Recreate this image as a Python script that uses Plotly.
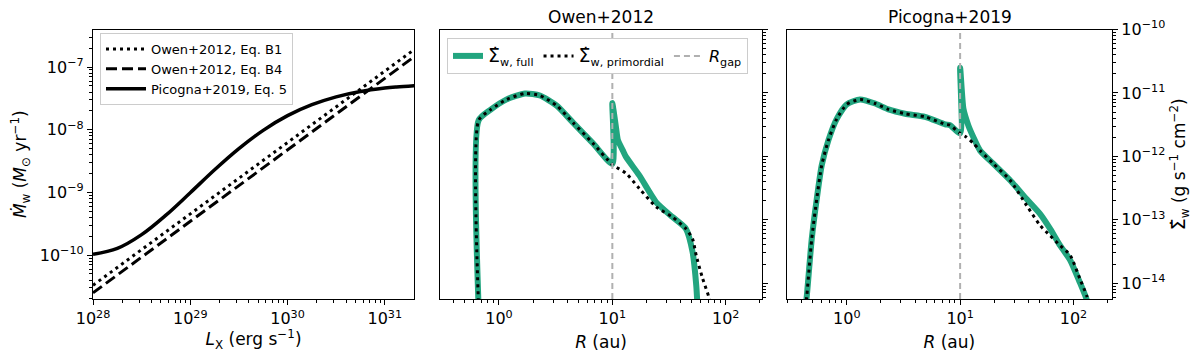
import plotly.graph_objects as go

# ---- left panel: wind mass-loss rate vs X-ray luminosity ----
lx_line = [1e28, 2e31]
mdot_owen_b1 = [3.3e-11, 1.9e-7]
mdot_owen_b4 = [2.5e-11, 1.46e-7]

lx_picogna = [1e28, 1.78e28, 3.16e28, 5.62e28, 1e29, 1.78e29, 3.16e29, 5.62e29,
              1e30, 1.78e30, 3.16e30, 5.62e30, 1e31, 1.32e31, 2e31]
mdot_picogna = [1.03e-10, 1.28e-10, 2.12e-10, 4.34e-10, 9.9e-10, 2.3e-9, 5.0e-9, 9.8e-9,
                1.68e-8, 2.51e-8, 3.35e-8, 4.08e-8, 4.63e-8, 4.83e-8, 5.06e-8]

# ---- middle panel: Owen+2012 surface mass-loss profile ----
r_owen_full = [0.662, 0.662, 0.84, 1.17, 1.7, 2.3, 3.23, 4.5, 6.76, 10.0, 10.0, 10.3, 10.8,
               11.2, 12.4, 13.2, 17.3, 24.3, 34.0, 44.6, 51.0, 55.0, 56.5]
sig_owen_full = [4e-15, 3.7e-12, 5.4e-12, 7.9e-12, 9.8e-12, 9.1e-12, 6.3e-12, 3.4e-12, 1.6e-12,
                 7.6e-13, 6.9e-12, 5.0e-12, 2.75e-12, 1.8e-12, 1.23e-12, 9.8e-13, 5.0e-13,
                 1.9e-13, 1.1e-13, 7.2e-14, 3.1e-14, 9.1e-15, 4e-15]

r_owen_prim = [0.662, 0.662, 0.84, 1.17, 1.7, 2.3, 3.23, 4.5, 6.76, 10.0, 13.2, 17.3, 24.3,
               34.0, 44.6, 51.0, 55.0, 62.4, 71.4, 80.0]
sig_owen_prim = [4e-15, 3.7e-12, 5.4e-12, 7.9e-12, 9.8e-12, 9.1e-12, 6.3e-12, 3.4e-12, 1.6e-12,
                 7.4e-13, 5.4e-13, 3.1e-13, 1.6e-13, 1.1e-13, 7.2e-14, 5.0e-14, 2.7e-14,
                 1.2e-14, 5.8e-15, 2e-15]

# ---- right panel: Picogna+2019 surface mass-loss profile ----
r_pic_full = [0.42, 0.444, 0.491, 0.543, 0.601, 0.689, 0.816, 1.0, 1.31, 1.78, 2.33, 3.27,
              4.91, 7.38, 8.16, 10.0, 10.0, 10.7, 11.8, 13.1, 15.0, 19.7, 27.6, 38.8, 50.9,
              62.3, 76.4, 93.6, 114.0, 131.0, 140.0]
sig_pic_full = [2.5e-15, 6.3e-15, 5.0e-14, 2.1e-13, 7.2e-13, 1.8e-12, 3.9e-12, 6.6e-12,
                7.9e-12, 6.8e-12, 5.5e-12, 4.7e-12, 4.2e-12, 3.2e-12, 3.1e-12, 2.3e-12,
                2.5e-11, 5.6e-12, 3.1e-12, 2.0e-12, 1.23e-12, 7.6e-13, 4.2e-13, 2.1e-13,
                1.23e-13, 7.2e-14, 3.9e-14, 2.3e-14, 1.02e-14, 5.5e-15, 3.5e-15]

r_pic_prim = [0.42, 0.444, 0.491, 0.543, 0.601, 0.689, 0.816, 1.0, 1.31, 1.78, 2.33, 3.27,
              4.91, 7.38, 8.16, 10.0, 11.4, 13.1, 15.0, 19.7, 27.6, 38.8, 50.9, 62.3, 76.4,
              93.6, 114.0, 131.0, 140.0]
sig_pic_prim = [2.5e-15, 6.3e-15, 5.0e-14, 2.1e-13, 7.2e-13, 1.8e-12, 3.9e-12, 6.6e-12,
                7.9e-12, 6.8e-12, 5.5e-12, 4.7e-12, 4.2e-12, 3.2e-12, 3.1e-12, 2.3e-12,
                2.0e-12, 1.6e-12, 1.23e-12, 7.6e-13, 4.2e-13, 1.66e-13, 8.1e-14, 5.6e-14,
                3.9e-14, 2.75e-14, 1.17e-14, 6.3e-15, 4e-15]

r_gap = 10.0

# ---- tick labels ----
lx_tickvals = [1e28, 1e29, 1e30, 1e31]
lx_ticktext = ["10<sup>28</sup>", "10<sup>29</sup>", "10<sup>30</sup>", "10<sup>31</sup>"]
mdot_tickvals = [1e-10, 1e-9, 1e-8, 1e-7]
mdot_ticktext = ["10<sup>−10</sup>", "10<sup>−9</sup>", "10<sup>−8</sup>", "10<sup>−7</sup>"]
r_tickvals = [1, 10, 100]
r_ticktext = ["10<sup>0</sup>", "10<sup>1</sup>", "10<sup>2</sup>"]
sig_tickvals = [1e-14, 1e-13, 1e-12, 1e-11, 1e-10]
sig_ticktext = ["10<sup>−14</sup>", "10<sup>−13</sup>", "10<sup>−12</sup>",
                "10<sup>−11</sup>", "10<sup>−10</sup>"]

GREEN = "#22a57f"
DOT = "3px,4px"
SIGMA = "<span style='font-size:19px'>Σ\u0307</span>"

# page body adds an 8px margin, so size the figure to fit inside 1200x360
W, H, OFF = 1184, 344, 8


def px(x):
    return (x - OFF) / W


def py(y):
    return 1 - (y - OFF) / H


fig = go.Figure()

# left panel
fig.add_trace(go.Scatter(x=lx_line, y=mdot_owen_b1, mode="lines", name="Owen+2012, Eq. B1",
                         line=dict(color="black", width=3, dash=DOT),
                         xaxis="x", yaxis="y", legend="legend"))
fig.add_trace(go.Scatter(x=lx_line, y=mdot_owen_b4, mode="lines", name="Owen+2012, Eq. B4",
                         line=dict(color="black", width=3, dash="11px,5px"),
                         xaxis="x", yaxis="y", legend="legend"))
fig.add_trace(go.Scatter(x=lx_picogna, y=mdot_picogna, mode="lines", name="Picogna+2019, Eq. 5",
                         line=dict(color="black", width=3.5, shape="spline"),
                         xaxis="x", yaxis="y", legend="legend"))

# middle panel
fig.add_trace(go.Scatter(x=r_owen_full, y=sig_owen_full, mode="lines",
                         name=SIGMA + "<sub>w, full</sub>",
                         line=dict(color=GREEN, width=6, shape="spline", smoothing=0.6),
                         xaxis="x2", yaxis="y2", legend="legend2"))
fig.add_trace(go.Scatter(x=r_owen_prim, y=sig_owen_prim, mode="lines",
                         name=SIGMA + "<sub>w, primordial</sub>",
                         line=dict(color="black", width=3, dash=DOT, shape="spline",
                                   smoothing=0.6),
                         xaxis="x2", yaxis="y2", legend="legend2"))
fig.add_trace(go.Scatter(x=[None], y=[None], mode="lines", name="<i>R</i><sub>gap</sub>",
                         line=dict(color="#b0b0b0", width=2, dash="6px,4px"),
                         xaxis="x2", yaxis="y2", legend="legend2"))

# right panel
fig.add_trace(go.Scatter(x=r_pic_full, y=sig_pic_full, mode="lines", showlegend=False,
                         line=dict(color=GREEN, width=6, shape="spline", smoothing=0.6),
                         xaxis="x3", yaxis="y3"))
fig.add_trace(go.Scatter(x=r_pic_prim, y=sig_pic_prim, mode="lines", showlegend=False,
                         line=dict(color="black", width=3, dash=DOT, shape="spline",
                                   smoothing=0.6),
                         xaxis="x3", yaxis="y3"))

for xr, yr in [("x2", "y2 domain"), ("x3", "y3 domain")]:
    fig.add_shape(type="line", xref=xr, yref=yr, x0=r_gap, x1=r_gap,
                  y0=0, y1=1, line=dict(color="#b0b0b0", width=2, dash="6px,4px"))

axis_style = dict(showline=True, linecolor="black", linewidth=1.2, mirror=True,
                  ticks="outside", ticklen=5, tickwidth=1.2, tickcolor="black",
                  showgrid=False, zeroline=False, type="log", automargin=False,
                  tickfont=dict(size=16, color="black"),
                  minor=dict(ticks="outside", ticklen=2.5, tickwidth=1, tickcolor="black",
                             dtick="D1", showgrid=False))

ydom = [py(299), py(29.5)]
title_font = dict(size=17, color="black")

fig.update_layout(
    template="none",
    width=W, height=H,
    margin=dict(l=0, r=0, t=0, b=0),
    plot_bgcolor="white", paper_bgcolor="white",
    font=dict(family="DejaVu Sans", color="black"),
    xaxis=dict(axis_style, domain=[px(93), px(414)], anchor="y", range=[28, 31.3],
               tickmode="array", tickvals=lx_tickvals, ticktext=lx_ticktext,
               title=dict(text="<i>L</i><sub>X</sub> (erg s<sup>−1</sup>)", font=title_font,
                          standoff=10)),
    yaxis=dict(axis_style, domain=ydom, anchor="x", range=[-10.7, -6.4],
               tickmode="array", tickvals=mdot_tickvals, ticktext=mdot_ticktext,
               title=dict(text="<i>Ṁ</i><sub>w</sub> (<i>M</i><sub>⊙</sub> yr<sup>−1</sup>)",
                          font=title_font, standoff=9)),
    xaxis2=dict(axis_style, domain=[px(440), px(762)], anchor="y2", range=[-0.52, 2.32],
                tickmode="array", tickvals=r_tickvals, ticktext=r_ticktext,
                title=dict(text="<i>R</i> (au)", font=title_font, standoff=10)),
    yaxis2=dict(axis_style, domain=ydom, anchor="x2", range=[-14.25, -10], side="right",
                tickmode="array", tickvals=sig_tickvals, showticklabels=False),
    xaxis3=dict(axis_style, domain=[px(786.7), px(1112)], anchor="y3", range=[-0.53, 2.34],
                tickmode="array", tickvals=r_tickvals, ticktext=r_ticktext,
                title=dict(text="<i>R</i> (au)", font=title_font, standoff=10)),
    yaxis3=dict(axis_style, domain=ydom, anchor="x3", range=[-14.25, -10], side="right",
                tickmode="array", tickvals=sig_tickvals, ticktext=sig_ticktext,
                title=dict(text=SIGMA + "<sub>w</sub> (g s<sup>−1</sup> cm<sup>−2</sup>)",
                           font=title_font, standoff=10)),
    legend=dict(x=px(100), y=py(33), xanchor="left", yanchor="top",
                bgcolor="white", bordercolor="#cccccc", borderwidth=1,
                font=dict(size=13), tracegroupgap=0, itemwidth=40),
    legend2=dict(x=px(447), y=py(38), xanchor="left", yanchor="top", orientation="h",
                 bgcolor="white", bordercolor="#cccccc", borderwidth=1,
                 font=dict(size=16), itemwidth=30),
    annotations=[
        dict(text="Owen+2012", x=px(601), y=py(17), xref="paper", yref="paper",
             xanchor="center", yanchor="middle", showarrow=False, font=dict(size=17)),
        dict(text="Picogna+2019", x=px(949.5), y=py(17), xref="paper", yref="paper",
             xanchor="center", yanchor="middle", showarrow=False, font=dict(size=17)),
    ],
)

fig.write_html("out.html")
